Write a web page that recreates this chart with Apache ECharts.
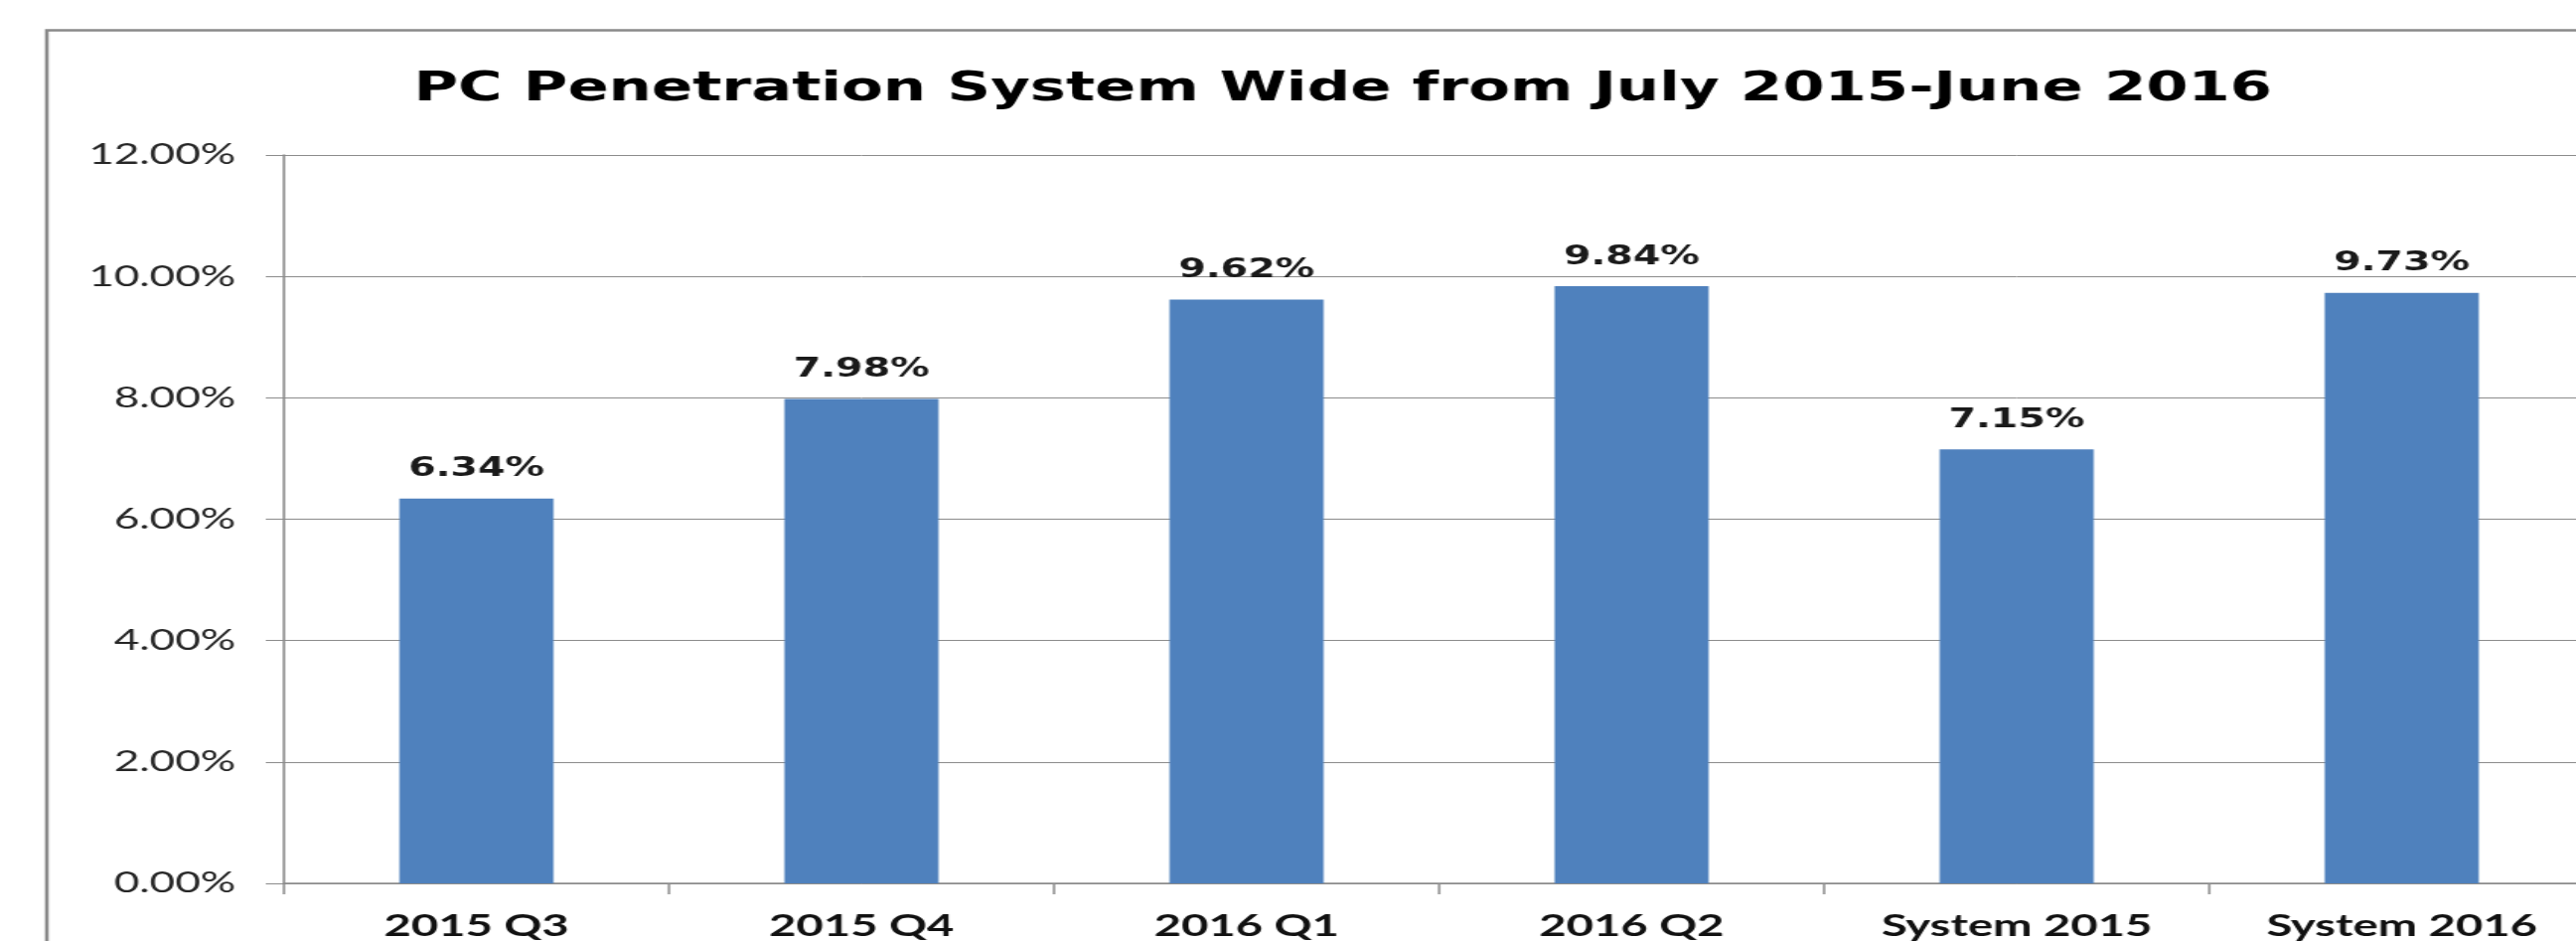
<!DOCTYPE html>
<html>
<head>
<meta charset="utf-8">
<title>PC Penetration System Wide</title>
<script src="https://cdn.jsdelivr.net/npm/echarts@6/dist/echarts.min.js"></script>
<style>
  html, body { margin: 0; padding: 0; background: #fff; overflow: hidden; }
  /* the source picture is stretched sideways, so the chart is drawn narrow and widened;
     it is a little wider than the window because the picture cuts off its right end */
  #main { width: 1730px; height: 947px; transform: scaleX(1.52); transform-origin: 0 0; }
</style>
</head>
<body>
<div id="main"></div>
<script>
// data
var categories = ['2015 Q3', '2015 Q4', '2016 Q1', '2016 Q2', 'System 2015', 'System 2016'];
var penetration = [6.34, 7.98, 9.62, 9.84, 7.15, 9.73];
var yTicks = { min: 0, max: 12, step: 2 };

function pct(v) {
    return Number(v).toFixed(2) + '%';
}

var myChart = echarts.init(document.getElementById('main'));

var option = {
    animation: false,
    backgroundColor: '#fff',
    title: {
        text: 'PC Penetration System Wide from July 2015-June 2016',
        left: 274,
        top: 71,
        padding: 0,
        textStyle: {
            fontFamily: 'DejaVu Sans',
            fontWeight: 'bold',
            fontSize: 40,
            color: '#000'
        }
    },
    // outer chart frame, cut off at the right and bottom like the picture
    graphic: [{
        type: 'rect',
        shape: { x: 31, y: 30.5, width: 2000, height: 1200 },
        style: { fill: null, stroke: '#8a8a8a', lineWidth: 2.5 },
        silent: true
    }],
    grid: {
        left: 188,
        right: 12,
        top: 156,
        bottom: 58
    },
    xAxis: {
        type: 'category',
        data: categories,
        axisLine: { lineStyle: { color: '#8c8c8c', width: 1.5 } },
        axisTick: { show: true, length: 11, lineStyle: { color: '#8c8c8c', width: 1.5 } },
        axisLabel: {
            interval: 0,
            margin: 27,
            fontFamily: 'Lato',
            fontWeight: 'bold',
            fontSize: 31,
            color: '#111'
        }
    },
    yAxis: {
        type: 'value',
        min: yTicks.min,
        max: yTicks.max,
        interval: yTicks.step,
        axisLine: { show: true, lineStyle: { color: '#8c8c8c', width: 1.6 } },
        axisTick: { show: true, length: 12, lineStyle: { color: '#8c8c8c', width: 1 } },
        splitLine: { lineStyle: { color: '#8c8c8c', width: 1 } },
        axisLabel: {
            margin: 32,
            formatter: pct,
            fontFamily: 'Lato',
            fontSize: 29,
            color: '#262626'
        }
    },
    series: [{
        type: 'bar',
        data: penetration,
        barWidth: 102,
        itemStyle: { color: '#4F81BD' },
        label: {
            show: true,
            position: 'top',
            distance: 16,
            formatter: function (p) { return pct(p.value); },
            fontFamily: 'DejaVu Sans',
            fontWeight: 'bold',
            fontSize: 26,
            color: '#1a1a1a'
        }
    }]
};

myChart.setOption(option);
</script>
</body>
</html>
